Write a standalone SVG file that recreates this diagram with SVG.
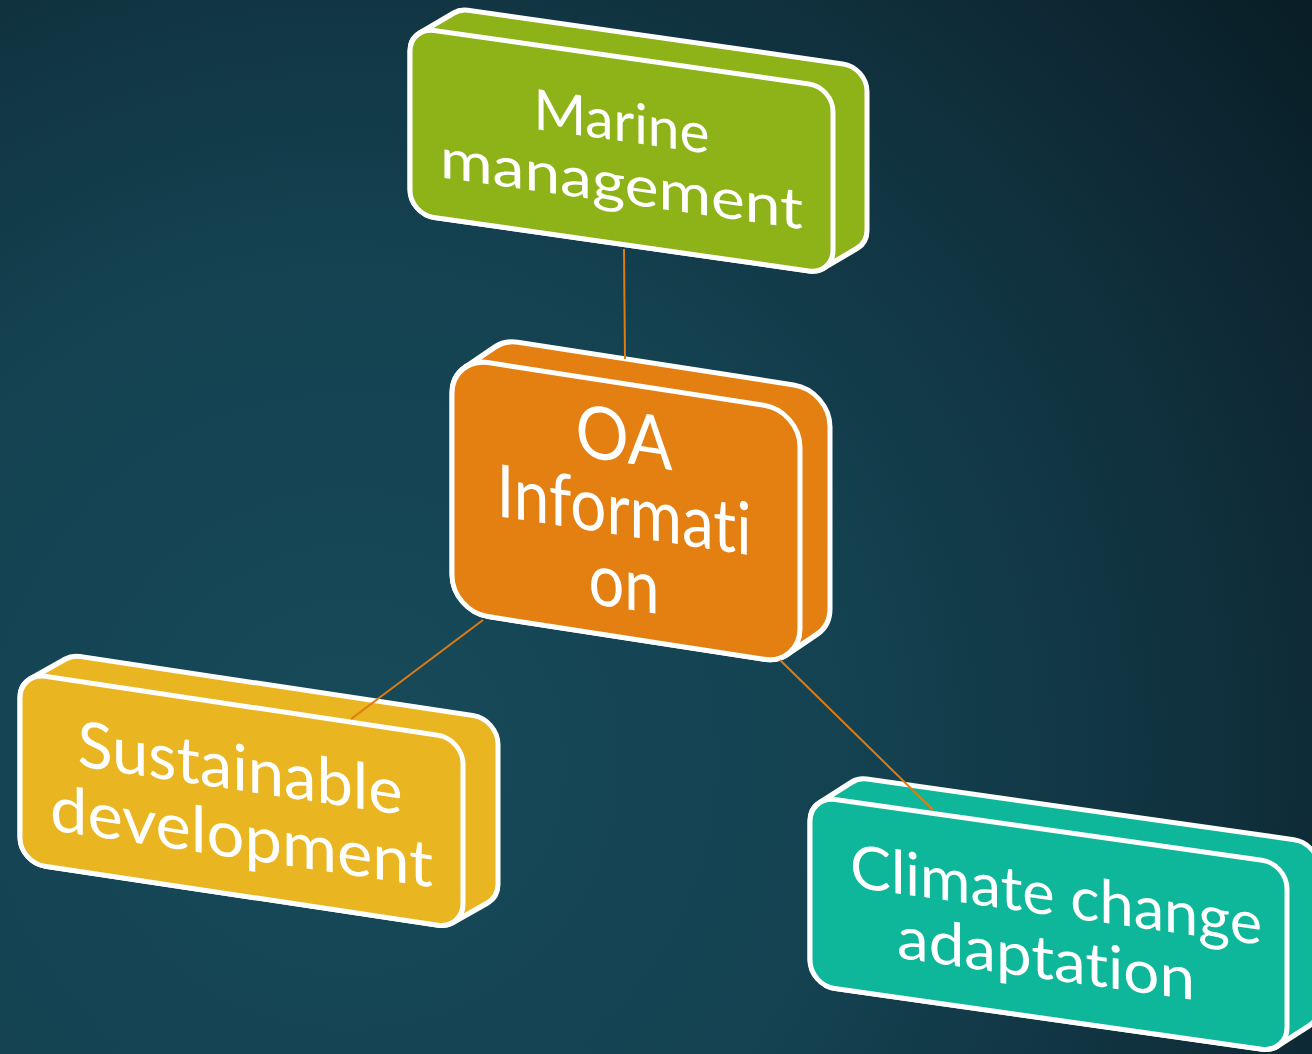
<svg xmlns="http://www.w3.org/2000/svg" width="1312" height="1054" viewBox="0 0 1312 1054">
  <defs>
    <radialGradient id="bg" gradientUnits="userSpaceOnUse" cx="350" cy="760" r="1250">
      <stop offset="0" stop-color="#174a5a"/>
      <stop offset="0.4" stop-color="#144251"/>
      <stop offset="0.7" stop-color="#10303d"/>
      <stop offset="1" stop-color="#081c24"/>
    </radialGradient>
  </defs>
  <style>
    .edge { stroke: #fff; stroke-width: 5; stroke-linejoin: round; }
    .wire { stroke: #e07b12; stroke-width: 2; fill: none; }
    .label { fill: #fff; font-family: "Lato", "Open Sans", "Liberation Sans", sans-serif; font-weight: 400; text-anchor: middle; font-variant-ligatures: none; font-feature-settings: "liga" 0, "dlig" 0; }
    .green { fill: #8db319; }
    .orange { fill: #e47f12; }
    .yellow { fill: #e9b521; }
    .teal { fill: #0eb69a; }
  </style>

  <rect width="1312" height="1054" fill="url(#bg)"/>

  <!-- Marine management -->
  <g id="marine" transform="translate(410 27) matrix(1 0.143 0 1 0 0)">
    <path class="green edge" d="M0 24 A24 24 0 0 1 9.8 4.7 L43.8 -20.3 A24 24 0 0 1 58 -25 L433 -25 A24 24 0 0 1 457 -1 L457 138 A24 24 0 0 1 447.2 157.3 L413.2 182.3 A24 24 0 0 1 399 187 L24 187 A24 24 0 0 1 0 163 Z"/>
    <rect class="green edge" x="0" y="0" width="423" height="187" rx="24"/>
    <text class="label" font-size="56"><tspan x="211.5" y="84" textLength="176" lengthAdjust="spacingAndGlyphs">Marine</tspan><tspan x="211.5" y="146" textLength="363" lengthAdjust="spacingAndGlyphs">management</tspan></text>
  </g>

  <!-- OA Information -->
  <g id="oa-information" transform="translate(452 357) matrix(1 0.155 0 1 0 0)">
    <path class="orange edge" d="M0 36 A36 36 0 0 1 13 8.3 L43 -16.7 A36 36 0 0 1 66 -25 L342 -25 A36 36 0 0 1 378 11 L378 193 A36 36 0 0 1 365 220.7 L335 245.7 A36 36 0 0 1 312 254 L36 254 A36 36 0 0 1 0 218 Z"/>
    <rect class="orange edge" x="0" y="0" width="348" height="254" rx="36"/>
    <text class="label" font-size="73"><tspan x="172" y="79" textLength="97" lengthAdjust="spacingAndGlyphs">OA</tspan><tspan x="172" y="152" textLength="255" lengthAdjust="spacingAndGlyphs">Informati</tspan><tspan x="172" y="225" textLength="71" lengthAdjust="spacingAndGlyphs">on</tspan></text>
  </g>

  <!-- Sustainable development -->
  <g id="sustainable-development" transform="translate(20 672.5) matrix(1 0.15 0 1 0 0)">
    <path class="yellow edge" d="M0 25 A25 25 0 0 1 10.5 4.7 L45.5 -20.3 A25 25 0 0 1 60 -25 L453 -25 A25 25 0 0 1 478 0 L478 140 A25 25 0 0 1 467.5 160.3 L432.5 185.3 A25 25 0 0 1 418 190 L25 190 A25 25 0 0 1 0 165 Z"/>
    <rect class="yellow edge" x="0" y="0" width="443" height="190" rx="25"/>
    <text class="label" font-size="64"><tspan x="220" y="85" textLength="325" lengthAdjust="spacingAndGlyphs">Sustainable</tspan><tspan x="221.5" y="153" textLength="383" lengthAdjust="spacingAndGlyphs">development</tspan></text>
  </g>

  <!-- Climate change adaptation -->
  <g id="climate-change-adaptation" transform="translate(810 796) matrix(1 0.142 0 1 0 0)">
    <path class="teal edge" d="M0 25 A25 25 0 0 1 9.6 5.3 L41.6 -19.7 A25 25 0 0 1 57 -25 L484 -25 A25 25 0 0 1 509 0 L509 139 A25 25 0 0 1 499.4 158.7 L467.4 183.7 A25 25 0 0 1 452 189 L25 189 A25 25 0 0 1 0 164 Z"/>
    <rect class="teal edge" x="0" y="0" width="477" height="189" rx="25"/>
    <text class="label" font-size="60"><tspan x="246" y="85" textLength="412" lengthAdjust="spacingAndGlyphs">Climate change</tspan><tspan x="236" y="149.5" textLength="298" lengthAdjust="spacingAndGlyphs">adaptation</tspan></text>
  </g>

  <!-- connectors from the central box -->
  <g id="connectors">
    <line class="wire" x1="624" y1="249" x2="625" y2="359"/>
    <line class="wire" x1="483" y1="620" x2="351" y2="719"/>
    <line class="wire" x1="780" y1="660" x2="933" y2="810"/>
  </g>
</svg>
